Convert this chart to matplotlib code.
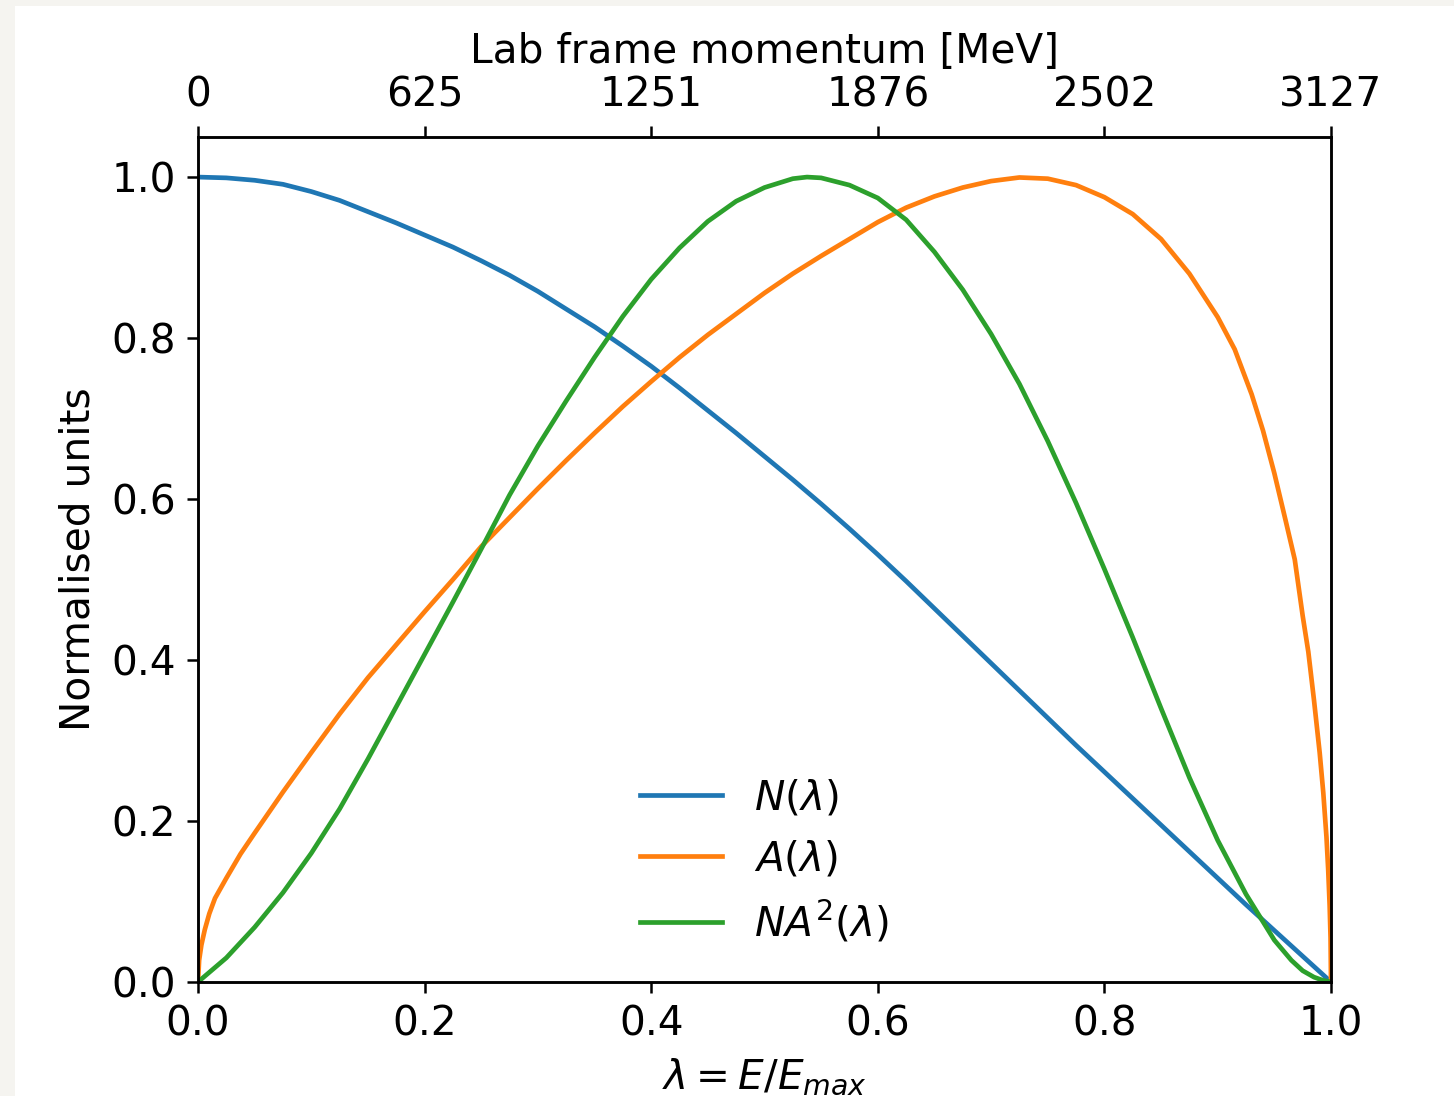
import matplotlib
matplotlib.use("Agg")
import matplotlib.pyplot as plt
from matplotlib.patches import Rectangle

# values
lam_n = [0.0, 0.025, 0.05, 0.075, 0.1, 0.125, 0.15, 0.175, 0.2, 0.225,
         0.25, 0.275, 0.3, 0.325, 0.35, 0.375, 0.4, 0.425, 0.45, 0.475,
         0.5, 0.525, 0.55, 0.575, 0.6, 0.625, 0.65, 0.675, 0.7, 0.725,
         0.75, 0.775, 0.8, 0.825, 0.85, 0.875, 0.9, 0.925, 0.95, 0.975, 1.0]
n_vals = [1.0, 0.999, 0.996, 0.991, 0.982, 0.971, 0.957, 0.943, 0.928, 0.913,
          0.896, 0.878, 0.858, 0.836, 0.814, 0.790, 0.765, 0.738, 0.710, 0.682,
          0.653, 0.624, 0.594, 0.563, 0.531, 0.498, 0.464, 0.430, 0.396, 0.362,
          0.328, 0.294, 0.261, 0.228, 0.195, 0.162, 0.129, 0.096, 0.064, 0.032, 0.0]

lam_a = [0.0, 0.001, 0.003, 0.006, 0.010, 0.015, 0.025, 0.0375, 0.05, 0.075,
         0.1, 0.125, 0.15, 0.175, 0.2, 0.225, 0.25, 0.275, 0.3, 0.325,
         0.35, 0.375, 0.4, 0.425, 0.45, 0.475, 0.5, 0.525, 0.55, 0.575,
         0.6, 0.625, 0.65, 0.675, 0.7, 0.725, 0.75, 0.775, 0.8, 0.825,
         0.85, 0.875, 0.9, 0.915, 0.93, 0.94, 0.95, 0.96, 0.968, 0.975,
         0.98, 0.985, 0.99, 0.9932, 0.996, 0.9975, 0.9988, 0.9996, 1.0]
a_vals = [0.0, 0.027, 0.046, 0.065, 0.085, 0.104, 0.129, 0.159, 0.185, 0.236,
          0.285, 0.333, 0.378, 0.419, 0.460, 0.500, 0.541, 0.577, 0.613, 0.648,
          0.682, 0.715, 0.746, 0.776, 0.804, 0.830, 0.856, 0.880, 0.902, 0.923,
          0.944, 0.962, 0.976, 0.987, 0.995, 0.9995, 0.998, 0.990, 0.975, 0.954,
          0.923, 0.880, 0.826, 0.786, 0.730, 0.685, 0.632, 0.573, 0.525, 0.455,
          0.410, 0.350, 0.285, 0.235, 0.180, 0.140, 0.095, 0.055, 0.0]

lam_na2 = [0.0, 0.025, 0.05, 0.075, 0.1, 0.125, 0.15, 0.175, 0.2, 0.225,
           0.25, 0.275, 0.3, 0.325, 0.35, 0.375, 0.4, 0.425, 0.45, 0.475,
           0.5, 0.525, 0.5375, 0.55, 0.575, 0.6, 0.625, 0.65, 0.675, 0.7,
           0.725, 0.75, 0.775, 0.8, 0.825, 0.85, 0.875, 0.9, 0.925, 0.95,
           0.965, 0.975, 0.985, 0.993, 1.0]
na2_vals = [0.0, 0.030, 0.068, 0.111, 0.160, 0.215, 0.277, 0.342, 0.407, 0.472,
            0.538, 0.605, 0.666, 0.722, 0.776, 0.827, 0.873, 0.912, 0.945, 0.970,
            0.987, 0.998, 1.0, 0.999, 0.990, 0.974, 0.947, 0.907, 0.860, 0.805,
            0.743, 0.672, 0.595, 0.513, 0.428, 0.340, 0.254, 0.176, 0.109, 0.052,
            0.027, 0.014, 0.006, 0.002, 0.0]

y_ticks = [0.0, 0.2, 0.4, 0.6, 0.8, 1.0]
top_ticks = [0.0, 0.2, 0.4, 0.6, 0.8, 1.0]
top_labels = ['0', '625', '1251', '1876', '2502', '3127']

plt.rcParams['font.size'] = 13

W, H = 1454, 1096
fig = plt.figure(figsize=(W / 225, (H + 0.2) / 225), dpi=225, facecolor='#f5f4f0')
# white page, the beige strip shows on the left and top edges
fig.patches.append(Rectangle((15 / W, 0), 1, (H - 6) / H, transform=fig.transFigure,
                             facecolor='white', edgecolor='none', zorder=-1))

ax = fig.add_axes([198 / W, (H - 982) / H, (1331 - 198) / W, (982 - 137) / H])
ax.plot(lam_n, n_vals, color='#1f77b4', lw=1.5, label=r'$N(\lambda)$')
ax.plot(lam_a, a_vals, color='#ff7f0e', lw=1.5, label=r'$A(\lambda)$')
ax.plot(lam_na2, na2_vals, color='#2ca02c', lw=1.5, label=r'$NA^2(\lambda)$')

ax.set_xlim(0, 1)
ax.set_ylim(0, 1.05)
ax.set_yticks(y_ticks)
ax.set_xlabel(r'$\lambda = E/E_{max}$')
ax.set_ylabel('Normalised units')
ax.legend(loc='lower center', frameon=False)

# lab frame momentum on top
ax2 = ax.twiny()
ax2.set_xlim(ax.get_xlim())
ax2.set_xticks(top_ticks)
ax2.set_xticklabels(top_labels)
ax2.set_xlabel('Lab frame momentum [MeV]')

fig.savefig('out.png', dpi=225, facecolor=fig.get_facecolor())
